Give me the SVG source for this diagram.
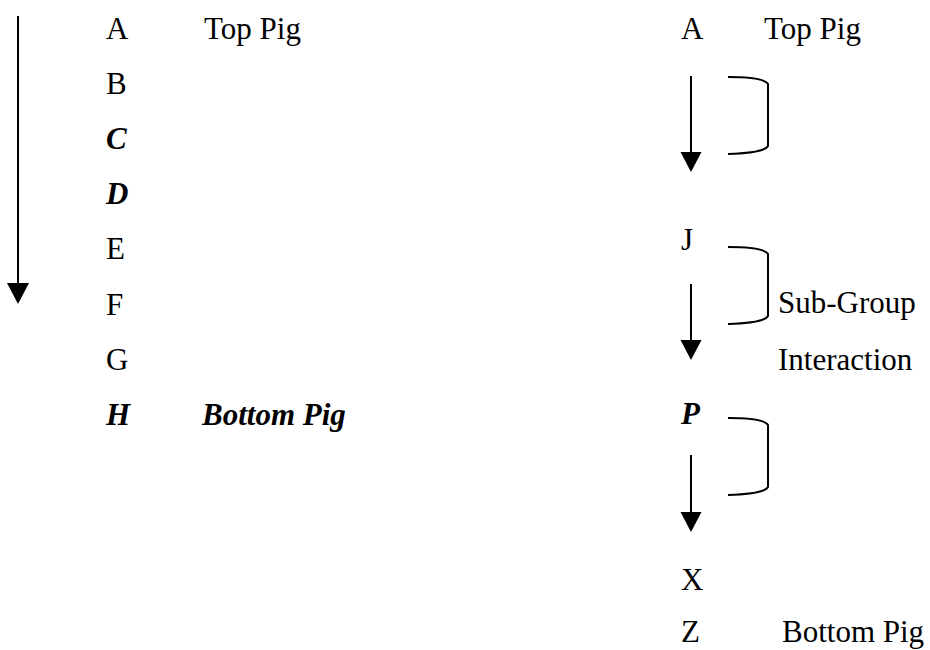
<svg xmlns="http://www.w3.org/2000/svg" width="930" height="650" viewBox="0 0 930 650">
<style>
.t{font-family:'Liberation Serif','DejaVu Serif',serif;font-size:31px;fill:#000}
.bi{font-weight:bold;font-style:italic}
.ln{stroke:#000;stroke-width:2;fill:none}
.br{stroke:#000;stroke-width:2;fill:none}
.ah{fill:#000}
</style>
<rect width="930" height="650" fill="#fff"/>
<g id="connectors">
<line class="ln" x1="18" y1="16" x2="18" y2="283"/>
<path class="ah" d="M7,283 L29,283 L18,304 Z"/>
<line class="ln" x1="691" y1="76" x2="691" y2="152"/>
<path class="ah" d="M680.5,152 L701.5,152 L691,172 Z"/>
<line class="ln" x1="691" y1="284" x2="691" y2="340"/>
<path class="ah" d="M680.5,340 L701.5,340 L691,360 Z"/>
<line class="ln" x1="691" y1="455" x2="691" y2="512"/>
<path class="ah" d="M680.5,512 L701.5,512 L691,532 Z"/>
<path class="br" d="M728,77 Q764,77 768,84 L768,146 Q764,153 728,154"/>
<path class="br" d="M728,247 Q764,247 768,254 L768,316 Q764,323 728,324"/>
<path class="br" d="M728,418 Q764,418 768,425 L768,487 Q764,494 728,495"/>
</g>
<g id="left-list" font-family="Liberation Serif, serif" font-size="31">
<g id="lA"><text class="t" x="106" y="39">A</text><text class="t" x="204" y="39">Top Pig</text></g>
<g id="lB"><text class="t" x="106" y="94">B</text></g>
<g id="lC"><text class="t bi" x="106" y="149">C</text></g>
<g id="lD"><text class="t bi" x="106" y="204">D</text></g>
<g id="lE"><text class="t" x="106" y="259">E</text></g>
<g id="lF"><text class="t" x="106" y="315">F</text></g>
<g id="lG"><text class="t" x="106" y="370">G</text></g>
<g id="lH"><text class="t bi" x="106" y="425">H</text><text class="t bi" x="202" y="425">Bottom Pig</text></g>
</g>
<g id="right-list" font-family="Liberation Serif, serif" font-size="31">
<g id="rA"><text class="t" x="681" y="39">A</text><text class="t" x="764" y="39">Top Pig</text></g>
<g id="rJ"><text class="t" x="681" y="250">J</text></g>
<g id="rSub"><text class="t" x="778" y="313">Sub-Group</text><text class="t" x="778" y="370">Interaction</text></g>
<g id="rP"><text class="t bi" x="681" y="424">P</text></g>
<g id="rX"><text class="t" x="681" y="590">X</text></g>
<g id="rZ"><text class="t" x="681" y="642">Z</text><text class="t" x="782" y="642">Bottom Pig</text></g>
</g>
</svg>
